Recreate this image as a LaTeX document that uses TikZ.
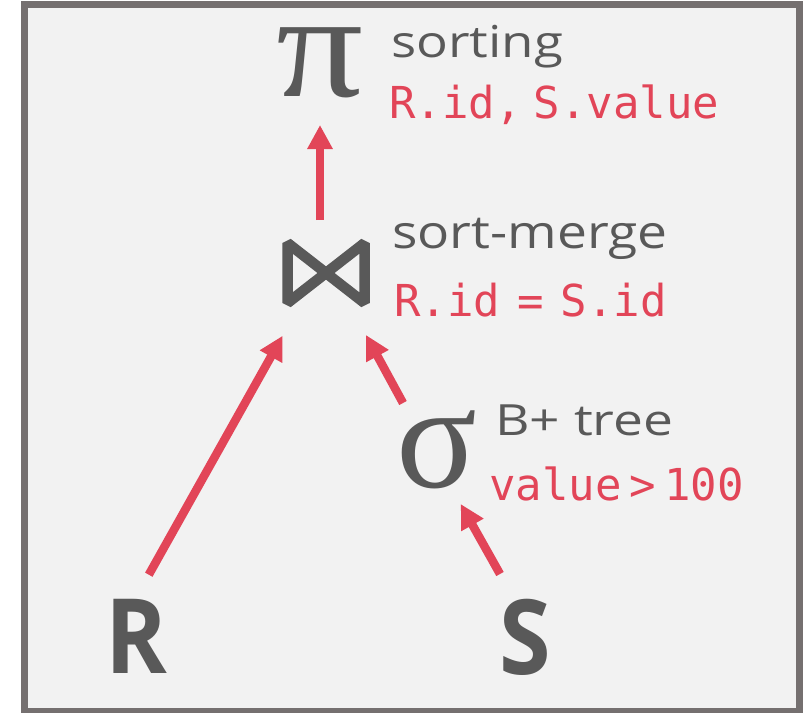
\documentclass[tikz,border=0pt]{standalone}
\usepackage{fontspec}
\usepackage{graphicx}
\setmainfont{Open Sans}
\newfontfamily\monofont{DejaVu Sans Mono}
\newfontfamily\greekfont{Liberation Serif}
\newfontfamily\labelfont{Open Sans}
\usetikzlibrary{arrows.meta,calc}
\definecolor{txtgray}{RGB}{89,89,89}
\definecolor{accred}{RGB}{226,69,88}
\definecolor{bordergray}{RGB}{117,112,112}
\definecolor{bgfill}{RGB}{242,242,242}
\begin{document}
\begin{tikzpicture}[x=1pt,y=-1pt,
  greek/.style={inner sep=0pt, anchor=base, text=txtgray, font=\greekfont\fontsize{150}{150}\selectfont},
  rel/.style={inner sep=0pt, anchor=base, text=txtgray, font=\labelfont\bfseries\fontsize{104}{104}\selectfont},
  algo/.style={inner sep=0pt, anchor=base west, text=txtgray},
  pred/.style={inner sep=0pt, anchor=base west, text=accred, font=\monofont\fontsize{44}{44}\selectfont},
  arr/.style={draw=accred, line width=8.5pt, -{Triangle[length=24pt,width=24pt]}},
  bowtie/.style={draw=txtgray, line width=10.5pt, line join=bevel},
]
\useasboundingbox (0,0) rectangle (805,712);
\draw[draw=bordergray, fill=bgfill, line width=7pt] (24.3,4.7) rectangle (799.5,711.5);

% operators
\node[greek] (pi) at (320,96) {\scalebox{1.15}[1]{π}};
\node[greek] (sigma) at (436.5,487) {σ};
\node[minimum width=88pt, minimum height=70pt, inner sep=0pt] (join) at (326,273) {};
\draw[bowtie] ($(join.center)+(-38.5,-30)$) -- (join.center) -- ($(join.center)+(38.5,-30)$)
  -- ($(join.center)+(38.5,30)$) -- (join.center) -- ($(join.center)+(-38.5,30)$) -- cycle;

% relations
\node[rel] (R) at (136,673) {\scalebox{0.9}[1]{R}};
\node[rel] (S) at (525,674) {\scalebox{0.9}[1]{S}};

% labels
\node[algo, font=\labelfont\fontsize{44}{44}\selectfont] (sortlbl) at (391,57) {\scalebox{1.2}[1]{sorting}};
\node[pred] (sortpred) at (389,118) {R.id,\hspace{12pt}S.value};
\node[algo, font=\labelfont\fontsize{46}{46}\selectfont] (joinlbl) at (392,248) {\scalebox{1.16}[1]{sort-merge}};
\node[pred] (joinpred) at (394,316.7) {R.id\hspace{17pt}=\hspace{17pt}S.id};
\node[algo, font=\labelfont\fontsize{43}{43}\selectfont] (sellbl) at (495,435) {\scalebox{1.24}[1]{B+ tree}};
\node[pred] (selpred) at (489,500) {value\hspace{8pt}>\hspace{8pt}100};

% connectors
\draw[arr] ($(join.center)+(-6,-53)$) -- ($(pi.base)+(0,29)$);
\draw[arr] ($(R.base)+(12.8,-98.3)$) -- ($(join.center)+(-43.3,62.7)$);
\draw[arr] ($(sigma.base)+(-33.5,-84)$) -- ($(join.center)+(40,62)$);
\draw[arr] ($(S.base)+(-25,-100)$) -- ($(sigma.base)+(24.2,17)$);
\end{tikzpicture}
\end{document}
